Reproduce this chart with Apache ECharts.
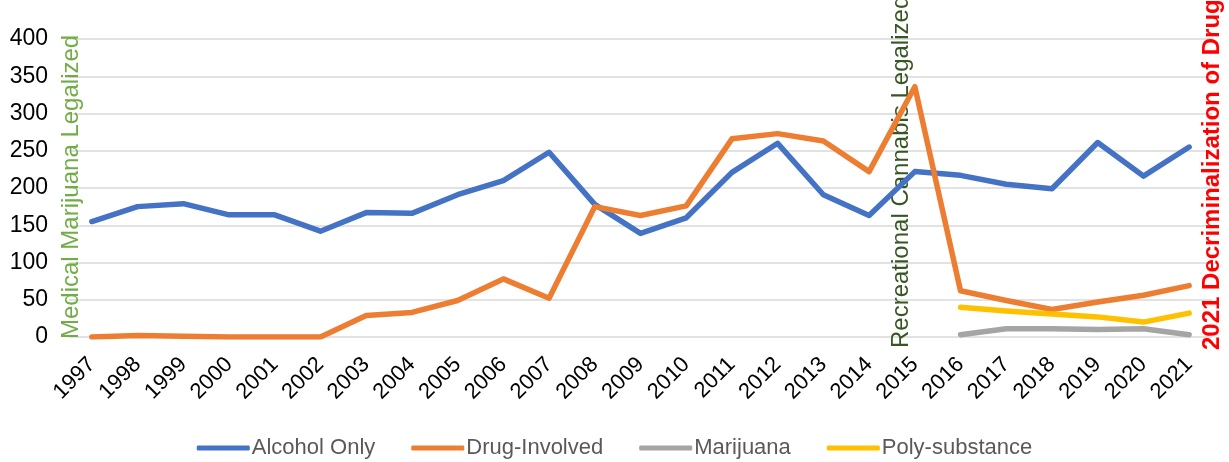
<!DOCTYPE html>
<html>
<head>
<meta charset="utf-8">
<script src="https://cdn.jsdelivr.net/npm/echarts@6/dist/echarts.min.js"></script>
<style>
html,body{margin:0;padding:0;background:#fff;}
#chart{width:1229px;height:462px;}
</style>
</head>
<body>
<div id="chart"></div>
<script>
const years = ['1997','1998','1999','2000','2001','2002','2003','2004','2005','2006','2007','2008','2009','2010','2011','2012','2013','2014','2015','2016','2017','2018','2019','2020','2021'];
const alcoholOnly = [155,175,179,164,164,142,167,166,191,210,248,178,139,160,221,260,191,163,222,217,205,199,261,216,255];
const drugInvolved = [0,2,1,0,0,0,29,33,49,78,52,175,163,176,266,273,263,222,336,62,49,37,47,56,69];
const marijuana = [null,null,null,null,null,null,null,null,null,null,null,null,null,null,null,null,null,null,null,3,11,11,10,11,3];
const polySubstance = [null,null,null,null,null,null,null,null,null,null,null,null,null,null,null,null,null,null,null,40,35,31,27,20,32];
const seriesNames = ['Alcohol Only','Drug-Involved','Marijuana','Poly-substance'];
const seriesColors = ['#4472C4','#ED7D31','#A5A5A5','#FFC000'];
const annotations = [
  {text:'Medical Marijuana Legalized', year:'1997', dx:-20, dy:2, color:'#70AD47', weight:'normal'},
  {text:'Recreational Cannabis Legalized', year:'2015', dx:-13, dy:11, color:'#375623', weight:'normal'},
  {text:'2021 Decriminalization of Drugs', year:'2021', dx:23, dy:13, color:'#FF0000', weight:'bold'}
];

const chart = echarts.init(document.getElementById('chart'));
const dataSets = [alcoholOnly, drugInvolved, marijuana, polySubstance];
const option = {
  animation:false,
  textStyle:{fontFamily:'Liberation Sans, Arial, sans-serif'},
  grid:{left:69,right:17,top:39,bottom:125,outerBoundsMode:'none',containLabel:false},
  legend:{
    bottom:-2,
    left:'center',
    icon:'roundRect',
    itemWidth:53,
    itemHeight:5,
    itemGap:36,
    textStyle:{fontSize:22,color:'#595959',fontFamily:'Liberation Sans, Arial, sans-serif',padding:[0,0,0,-3]},
    data:seriesNames
  },
  xAxis:{
    type:'category',
    data:years,
    boundaryGap:true,
    axisLine:{show:false},
    axisTick:{show:false},
    axisLabel:{rotate:45,fontSize:22,color:'#000',margin:24,interval:0}
  },
  yAxis:{
    type:'value',
    min:0,max:400,interval:50,
    axisLine:{show:false},
    axisTick:{show:false},
    axisLabel:{fontSize:23,color:'#000',margin:21},
    splitLine:{lineStyle:{color:'#D9D9D9',width:1.5}}
  },
  series: seriesNames.map((n,i)=>({
    name:n,
    type:'line',
    data:dataSets[i],
    symbol:'none',
    color:seriesColors[i],
    lineStyle:{width:5.5,color:seriesColors[i],cap:'round',join:'round'},
    connectNulls:false,
    z:3+i
  }))
};
chart.setOption(option);

const graphics = annotations.map(a=>{
  const x = chart.convertToPixel({xAxisIndex:0}, a.year) + a.dx;
  const y = chart.convertToPixel({yAxisIndex:0}, 0) + a.dy;
  return {
    type:'text',
    x:x, y:y,
    rotation:Math.PI/2,
    z:1,
    style:{
      text:a.text,
      fill:a.color,
      font:a.weight+' 24px "Liberation Sans", Arial, sans-serif',
      align:'left',
      verticalAlign:'middle'
    }
  };
});
chart.setOption({graphic:graphics});
</script>
</body>
</html>
